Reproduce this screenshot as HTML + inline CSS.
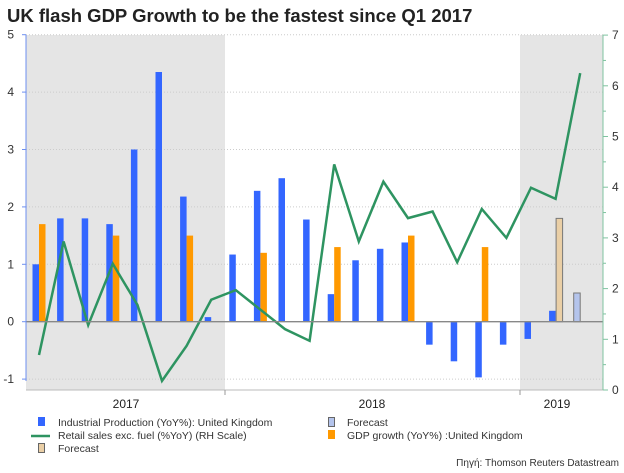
<!DOCTYPE html>
<html><head><meta charset="utf-8"><style>
body{margin:0;background:#fff;font-family:"Liberation Sans",sans-serif;}
svg text{font-family:"Liberation Sans",sans-serif;}
</style></head><body>
<svg id="c" width="624" height="468" xmlns="http://www.w3.org/2000/svg">
<text x="7" y="22" font-size="18.5" font-weight="bold" fill="#222">UK flash GDP Growth to be the fastest since Q1 2017</text>
<rect x="26" y="35" width="199" height="355" fill="#e5e5e5"/>
<rect x="520" y="35" width="83" height="355" fill="#e5e5e5"/>
<g id="grid"></g><g id="bars"></g><g id="line"></g><g id="axes"></g>
<text x="126" y="408" font-size="12" text-anchor="middle" fill="#222">2017</text>
<text x="372" y="408" font-size="12" text-anchor="middle" fill="#222">2018</text>
<text x="557" y="408" font-size="12" text-anchor="middle" fill="#222">2019</text>
<line x1="225" y1="390" x2="225" y2="395" stroke="#999"/>
<line x1="520" y1="390" x2="520" y2="395" stroke="#999"/>
<g font-size="10.5" fill="#333">
<g><rect x="38" y="417" width="7" height="9" fill="#3366ff"/><text x="58" y="426">Industrial Production (YoY%): United Kingdom</text></g>
<g><line x1="31" y1="436" x2="50" y2="436" stroke="#2e9461" stroke-width="2.5"/><text x="58" y="439">Retail sales exc. fuel (%YoY) (RH Scale)</text></g>
<g><rect x="38.5" y="443.5" width="6" height="9" fill="#eacfa6" stroke="#666"/><text x="58" y="452">Forecast</text></g>
<g><rect x="328.5" y="417.5" width="6" height="9" fill="#b4c4ec" stroke="#666"/><text x="347" y="426">Forecast</text></g>
<g><rect x="328" y="430" width="7" height="9" fill="#ff9900"/><text x="347" y="439">GDP growth (YoY%) :United Kingdom</text></g>
</g>
<text x="619" y="466" font-size="10" text-anchor="end" fill="#333">Πηγή: Thomson Reuters Datastream</text>
</svg>
<script>
const ipValues=[1.0,1.8,1.8,1.7,3.0,4.35,2.18,0.08,1.17,2.28,2.5,1.78,0.48,1.07,1.27,1.38,-0.4,-0.69,-0.97,-0.4,-0.3,0.19,null];
const gdpValues=[1.7,null,null,1.5,null,null,1.5,null,null,1.2,null,null,1.3,null,null,1.5,null,null,1.3,null,null,null,null];
const gdpForecast=[null,null,null,null,null,null,null,null,null,null,null,null,null,null,null,null,null,null,null,null,null,1.8,null];
const ipForecast=[null,null,null,null,null,null,null,null,null,null,null,null,null,null,null,null,null,null,null,null,null,null,0.5];
const retailValues=[0.69,2.93,1.28,2.49,1.68,0.18,0.87,1.78,1.97,null,1.2,0.97,4.45,2.93,4.11,3.39,3.52,2.52,3.57,3.0,3.99,3.77,6.25];
const leftTicks=[-1,0,1,2,3,4,5];
const rightTicks=[0,1,2,3,4,5,6,7];
const NS="http://www.w3.org/2000/svg";
const yL=v=>321.7-v*57.4;
const yR=v=>390-v*50.7;
const xs=i=>32.5+i*24.6;
function mk(tag,attrs,parent){const e=document.createElementNS(NS,tag);for(const k in attrs)e.setAttribute(k,attrs[k]);parent.appendChild(e);return e;}
const grid=document.getElementById('grid'),bars=document.getElementById('bars'),line=document.getElementById('line'),axes=document.getElementById('axes');
leftTicks.forEach(t=>{
 const g=mk('line',{x1:26,x2:603,y1:yL(t),y2:yL(t),stroke:t===0?'#888':'#ccc','stroke-width':t===0?1.3:1,'stroke-dasharray':t===0?'':'1,2'},t===0?axes:grid);
 
 
 const tx=mk('text',{x:14,y:yL(t)+4,'font-size':12,'text-anchor':'end',fill:'#333'},axes);
 tx.textContent=t;
 
 
 const tk=mk('line',{x1:22,x2:26,y1:yL(t),y2:yL(t),stroke:'#6d8ff0'},axes);
 
 
});
const la=mk('line',{x1:26,x2:26,y1:35,y2:381,stroke:'#6d8ff0'},axes);


const ba=mk('line',{x1:26,x2:603,y1:390,y2:390,stroke:'#bbb'},axes);


const ra=mk('line',{x1:603,x2:603,y1:35,y2:390,stroke:'#7fc3a0'},axes);


rightTicks.forEach(t=>{
 const tk=mk('line',{x1:603,x2:608,y1:yR(t),y2:yR(t),stroke:'#7fc3a0'},axes);
 
 
 if(t<7){const m=mk('line',{x1:603,x2:606,y1:yR(t+0.5),y2:yR(t+0.5),stroke:'#7fc3a0'},axes);
 
 }
 const tx=mk('text',{x:612,y:yR(t)+4,'font-size':12,fill:'#333'},axes);
 tx.textContent=t;
 
 
});
function bar(v,x,fill,stroke,name){
 const y0=yL(0),y1=yL(v);
 const r=mk('rect',{x:x,y:Math.min(y0,y1),width:6.5,height:Math.abs(y1-y0),fill:fill},bars);
 if(stroke){r.setAttribute('stroke',stroke);r.setAttribute('stroke-width',1);}
 
 
}
ipValues.forEach((v,i)=>{if(v!==null)bar(v,xs(i),'#3366ff',null,'bar-industrial-production');});
gdpValues.forEach((v,i)=>{if(v!==null)bar(v,xs(i)+6.5,'#ff9900',null,'bar-gdp-growth');});
gdpForecast.forEach((v,i)=>{if(v!==null)bar(v,xs(i)+7,'#eacfa6','#777','bar-gdp-forecast');});
ipForecast.forEach((v,i)=>{if(v!==null)bar(v,xs(i),'#b4c4ec','#777','bar-ip-forecast');});
let d='';
retailValues.forEach((v,i)=>{if(v===null)return;d+=(d?'L':'M')+(xs(i)+6.5)+','+yR(v);});
const p=mk('path',{d:d,fill:'none',stroke:'#2e9461','stroke-width':2.5,'stroke-linejoin':'miter'},line);


</script>
</body></html>
